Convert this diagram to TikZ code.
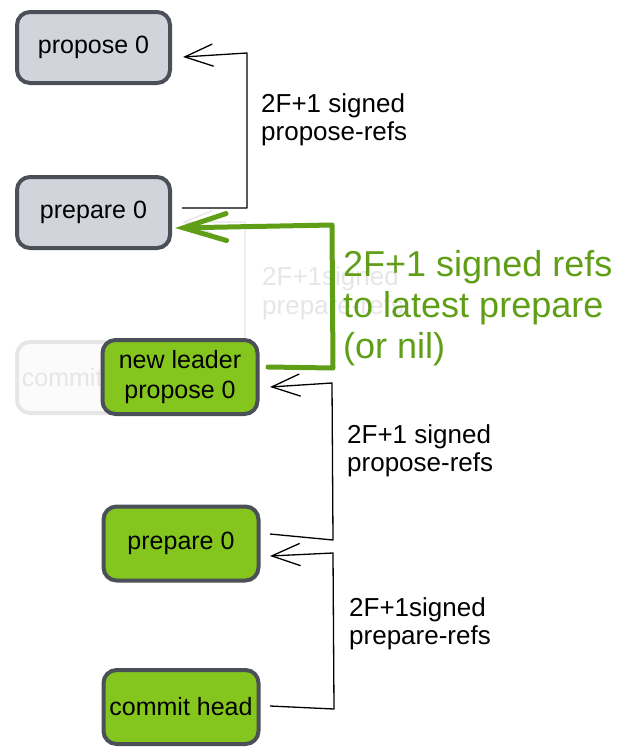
\documentclass[tikz,border=0pt]{standalone}
\usepackage{fontspec}
\setmainfont{Liberation Sans}
\usetikzlibrary{arrows.meta,calc}
\definecolor{boxgray}{HTML}{D1D5DB}
\definecolor{edgegray}{HTML}{4B5058}
\definecolor{leaf}{HTML}{84C61E}
\definecolor{olive}{HTML}{609E18}
\definecolor{ghost}{HTML}{E6E6E6}
\definecolor{ghostfill}{HTML}{FBFBFB}
\begin{document}
\begin{tikzpicture}[x=1pt,y=-1pt,
  block/.style={draw=edgegray, line width=4pt, rounded corners=13pt,
    minimum width=153pt, minimum height=71pt, align=center, inner sep=0pt,
    font=\fontsize{25}{30}\selectfont},
  graybox/.style={block, fill=boxgray},
  greenbox/.style={block, fill=leaf, minimum width=155pt, minimum height=74pt},
  ghostbox/.style={block, draw=ghost, fill=ghostfill, text=ghost},
  conn/.style={line width=1.3pt, line join=round,
    -{Straight Barb[length=28pt,width=22pt,line cap=round]}},
  bigconn/.style={draw=olive, line width=5pt, line join=round, line cap=round,
    -{Straight Barb[length=43pt,width=27pt,line cap=round]}},
  % multi-line labels: the base anchor sits on the last line's baseline
  lbl/.style={align=left, inner sep=0pt, anchor=base west,
    font=\fontsize{26}{28.5}\selectfont},
  biglbl/.style={align=left, inner sep=0pt, anchor=base west, text=olive,
    font=\fontsize{36}{41}\selectfont},
]
\useasboundingbox (0,0) rectangle (619,747);

% first round
\node[graybox] (propA) at (93.5,47.5) {propose 0};
\node[graybox] (prepA) at (93.5,212.5) {prepare 0};

% superseded commit step, left faded in the background
\node[ghostbox] (oldC) at (93.5,377.5) {commit head};
\draw[conn, draw=ghost] ([shift={(8,0)}]oldC.east) -- (245,378) -- (245,222)
  -- ([shift={(10,9.5)}]prepA.east);
\node[lbl, text=ghost] (oldL) at (262,314) {2F+1signed\\prepare-refs};

% new leader round
\node[greenbox] (newL) at (180,377) {new leader\\propose 0};
\node[greenbox] (prepB) at (181,543.5) {prepare 0};
\node[greenbox] (commitB) at (181,707) {commit head};

% reference links
\draw[conn] ([shift={(10,-4.5)}]prepA.east) -- (247,208) -- (247,53)
  -- ([shift={(11,9.5)}]propA.east);
\node[lbl] (l1) at (261,140.5) {2F+1 signed\\propose-refs};

\draw[bigconn] ([shift={(8.5,-10)}]newL.east) -- (333,368) -- (332,225)
  -- ([shift={(3,15.5)}]prepA.east);
\node[biglbl] (l2) at (343,358) {2F+1 signed refs\\to latest prepare\\(or nil)};

\draw[conn] ([shift={(9.5,-9.5)}]prepB.east) -- (333,540) -- (332,383)
  -- ([shift={(10.5,10)}]newL.east);
\node[lbl] (l3) at (347,471.5) {2F+1 signed\\propose-refs};

\draw[conn] ([shift={(9.5,-1)}]commitB.east) -- (334,709) -- (333,553)
  -- ([shift={(9.5,12.5)}]prepB.east);
\node[lbl] (l4) at (349,644.5) {2F+1signed\\prepare-refs};
\end{tikzpicture}
\end{document}
